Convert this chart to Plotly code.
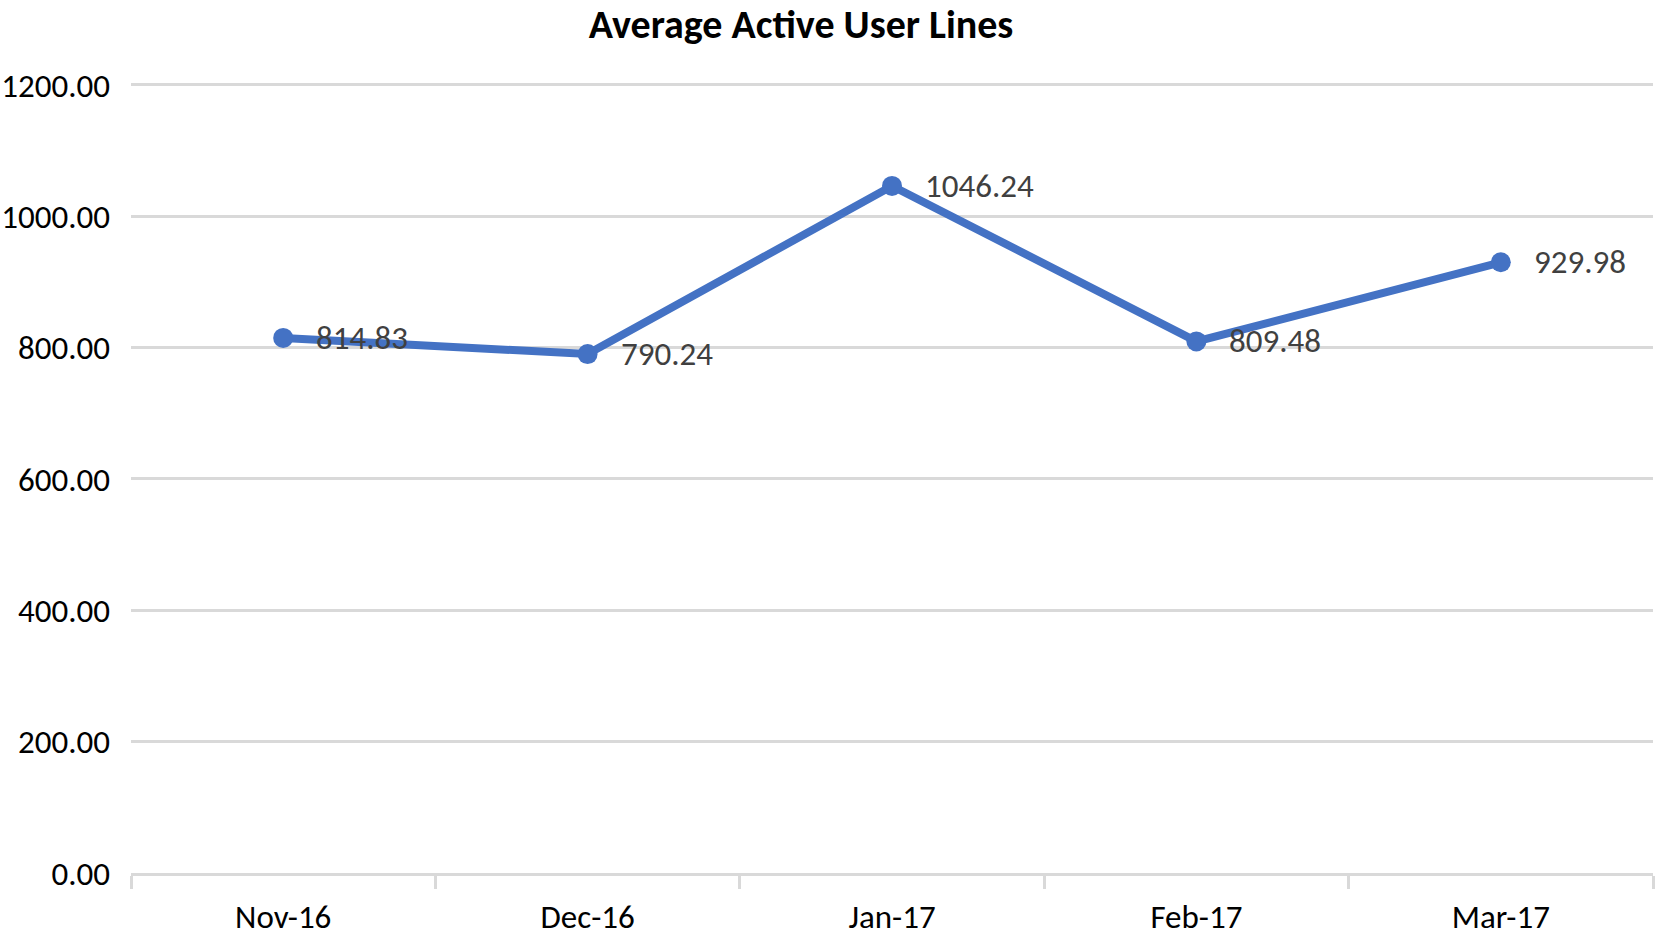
import plotly.graph_objects as go

months = ["Nov-16", "Dec-16", "Jan-17", "Feb-17", "Mar-17"]
values = [814.83, 790.24, 1046.24, 809.48, 929.98]
label_text = ["814.83", "790.24", "1046.24", "809.48", "929.98"]
y_ticks = [0, 200, 400, 600, 800, 1000, 1200]

FONT = "Carlito, Calibri, Lato, sans-serif"
BLUE = "#4472C4"
GRID = "#D9D9D9"

W, H = 1656, 937

fig = go.Figure()
fig.add_trace(go.Scatter(
    x=months, y=values, mode="lines+markers",
    line=dict(color=BLUE, width=8),
    marker=dict(color=BLUE, size=20),
    hoverinfo="skip",
))

for m, v, t in zip(months, values, label_text):
    fig.add_annotation(x=m, y=v, text=t, showarrow=False, xanchor="left",
                       yanchor="middle", xshift=31,
                       font=dict(family=FONT, size=33, color="#404040"))

fig.update_layout(
    width=W, height=H,
    margin=dict(l=131, r=3, t=82.5, b=63.5),
    paper_bgcolor="white", plot_bgcolor="white",
    showlegend=False,
    title=dict(text="<b>Average Active User Lines</b>", xref="container", yref="container",
               x=801/W, y=1-24/H, xanchor="center", yanchor="middle",
               font=dict(family=FONT, size=40, color="black")),
    font=dict(family=FONT, size=33, color="black"),
)
fig.update_xaxes(
    type="category", showgrid=False, showline=True, linecolor=GRID, linewidth=3,
    ticks="outside", tickson="boundaries", ticklen=13, tickcolor=GRID, tickwidth=3,
    tickfont=dict(family=FONT, size=33, color="black"), ticklabelstandoff=12,
    range=[-0.5, 4.5], automargin=False,
)
fig.update_yaxes(
    range=[0, 1203], tickvals=y_ticks, ticktext=[f"{v:.2f}" for v in y_ticks],
    showgrid=True, gridcolor=GRID, gridwidth=3, zeroline=False, showline=False,
    tickfont=dict(family=FONT, size=33, color="black"), ticklabelstandoff=20,
    automargin=False,
)

fig.write_html("out.html", config={"displayModeBar": False},
               post_script="document.body.style.margin='0';")
